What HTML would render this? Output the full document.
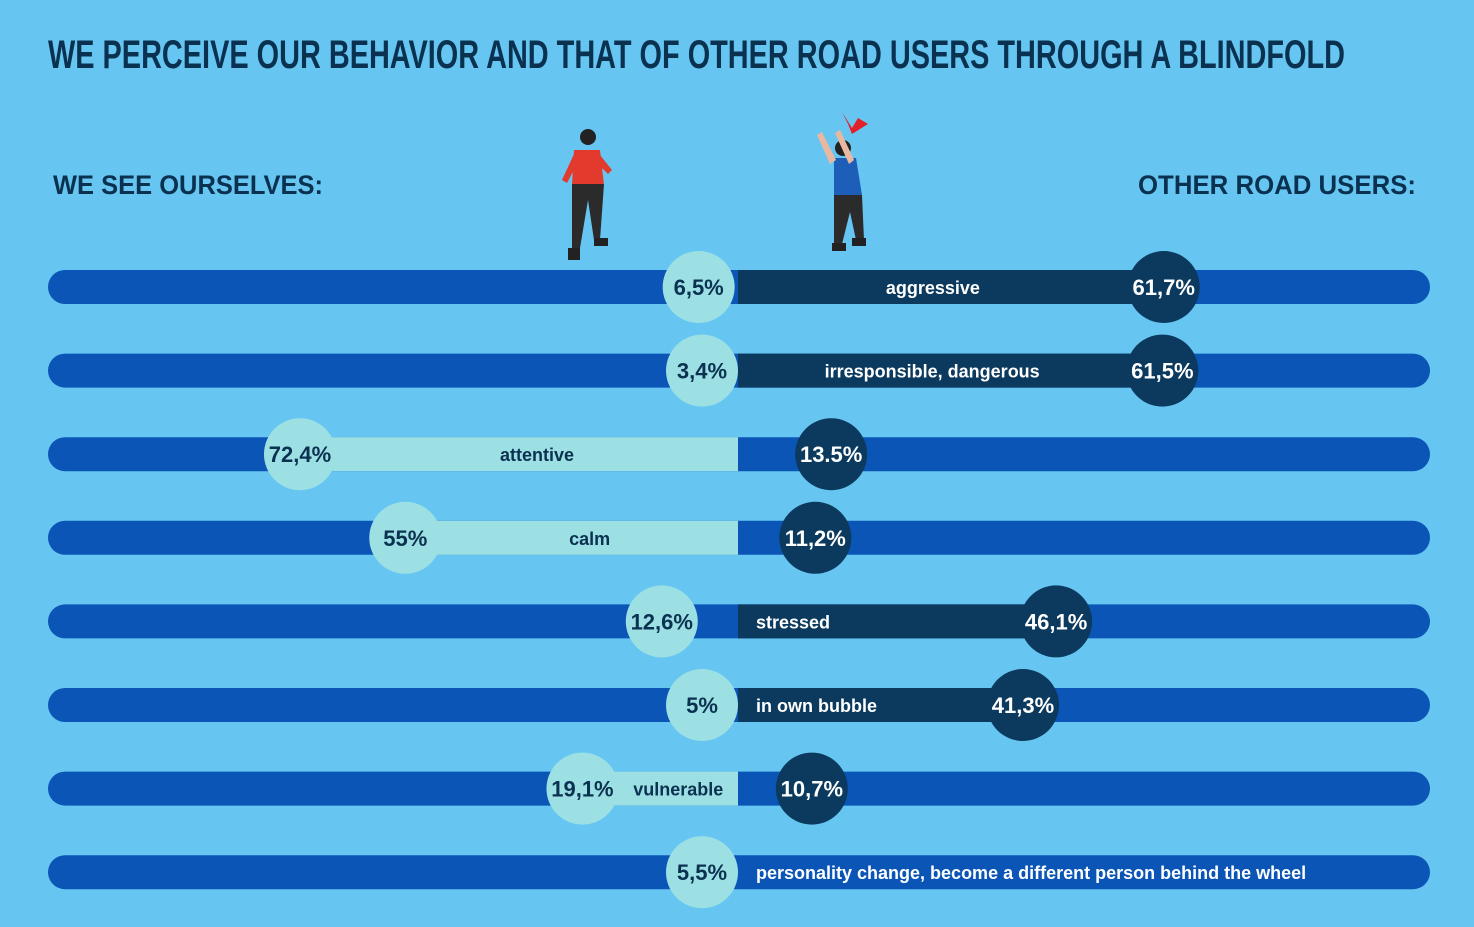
<!DOCTYPE html>
<html><head><meta charset="utf-8"><style>
html,body{margin:0;padding:0;background:#66c6f1;}
svg{display:block;font-family:"Liberation Sans",sans-serif;}
</style></head><body>
<svg id="chart" width="1474" height="927" viewBox="0 0 1474 927" xmlns="http://www.w3.org/2000/svg">
<rect width="1474" height="927" fill="#66c6f1"/>
<text x="48" y="68" font-size="40" font-weight="bold" fill="#0b3150" textLength="1297" lengthAdjust="spacingAndGlyphs">WE PERCEIVE OUR BEHAVIOR AND THAT OF OTHER ROAD USERS THROUGH A BLINDFOLD</text>
<text x="53" y="194" font-size="27" font-weight="bold" fill="#0b3150" textLength="270" lengthAdjust="spacingAndGlyphs">WE SEE OURSELVES:</text>
<text x="1138" y="194" font-size="27" font-weight="bold" fill="#0b3150" textLength="278" lengthAdjust="spacingAndGlyphs">OTHER ROAD USERS:</text>
<g>
<circle cx="588" cy="137" r="8" fill="#222"/>
<path d="M574 150 L600 150 L604 185 L572 185 Z" fill="#e23b2e"/>
<path d="M574 154 L562 180 L567 183 L578 162 Z" fill="#e23b2e"/>
<path d="M600 155 L612 170 L608 174 L598 164 Z" fill="#e23b2e"/>
<path d="M572 184 L604 184 L600 240 L594 240 L588 200 L580 248 L572 248 Z" fill="#2b2b2b"/>
<rect x="568" y="248" width="12" height="12" fill="#222"/><rect x="594" y="238" width="14" height="8" fill="#222"/>
</g>
<g>
<path d="M842 112 L852 128 L858 118 L868 124 L852 134 L848 124 Z" fill="#e3202a"/>
<circle cx="843" cy="148" r="8" fill="#222"/>
<path d="M834 158 L856 158 L862 195 L834 195 Z" fill="#1d5fb8"/>
<path d="M836 160 L822 132 L817 135 L830 164 Z" fill="#e8b9a0"/>
<path d="M854 160 L840 130 L835 133 L849 164 Z" fill="#e8b9a0"/>
<path d="M834 195 L862 195 L864 240 L856 240 L850 212 L842 244 L834 244 Z" fill="#2b2b2b"/>
<rect x="832" y="243" width="14" height="8" fill="#222"/><rect x="852" y="238" width="14" height="8" fill="#222"/>
</g>
<g id="rows"></g>
</svg>
<script>
const categories=["aggressive","irresponsible, dangerous","attentive","calm","stressed","in own bubble","vulnerable","personality change, become a different person behind the wheel"];
const selfValues=[6.5,3.4,72.4,55,12.6,5,19.1,5.5];
const otherValues=[61.7,61.5,13.5,11.2,46.1,41.3,10.7,null];
const selfLabels=["6,5%","3,4%","72,4%","55%","12,6%","5%","19,1%","5,5%"];
const otherLabels=["61,7%","61,5%","13.5%","11,2%","46,1%","41,3%","10,7%",""];
const CX=738, TOP=287, STEP=83.6;
function xSelf(v){return CX-Math.max(v*6.05,36)-(v>15&&v<30?40:0);}
function xOther(v){return CX+Math.max(v*6.9,50);}
const NS="http://www.w3.org/2000/svg";
const g=document.getElementById("rows");
function mk(tag,attrs,parent){const e=document.createElementNS(NS,tag);for(const k in attrs)e.setAttribute(k,attrs[k]);(parent||g).appendChild(e);return e;}
categories.forEach((cat,i)=>{
  const y=TOP+i*STEP;
  const row=mk("g",{});
  
  
  const bar=mk("rect",{x:48,y:y-17,width:1382,height:34,rx:17,fill:"#0a55b6"},row);
  
  
  const sx=xSelf(selfValues[i]);
  const hasOther=otherValues[i]!=null;
  const selfDom=hasOther && selfValues[i]>otherValues[i];
  if(selfDom){
    const seg=mk("rect",{x:sx,y:y-17,width:CX-sx,height:34,fill:"#9de0e4"},row);
    
    
  }
  let ox=null;
  if(hasOther){
    ox=xOther(otherValues[i]);
    if(!selfDom){
      const seg2=mk("rect",{x:CX,y:y-17,width:ox-CX,height:34,fill:"#0b3a5e"},row);
      
      
    }
  }
  const c1=mk("circle",{cx:sx,cy:y,r:36,fill:"#9de0e4"},row);
  
  
  const t1=mk("text",{x:sx,y:y+8,"text-anchor":"middle","font-size":22,"font-weight":"bold",fill:"#0b3150"},row);
  t1.textContent=selfLabels[i];
  
  
  if(ox!=null){
    const c2=mk("circle",{cx:ox,cy:y,r:36,fill:"#0b3a5e"},row);
    
    
    const t2=mk("text",{x:ox,y:y+8,"text-anchor":"middle","font-size":22,"font-weight":"bold",fill:"#ffffff"},row);
    t2.textContent=otherLabels[i];
    
    
  }
  let lx,anchor="middle",col;
  if(selfDom){lx=(sx+36+CX)/2;col="#0b3150";}
  else if(ox!=null){lx=(CX+ox-36)/2;col="#ffffff";}
  else {lx=756;anchor="start";col="#ffffff";}
  if(!selfDom && ox!=null && ox-CX<340){lx=756;anchor="start";}
  const t3=mk("text",{x:lx,y:y+7,"text-anchor":anchor,"font-size":18,"font-weight":"bold",fill:col},row);
  t3.textContent=cat;
  
  
});
</script>
</body></html>
